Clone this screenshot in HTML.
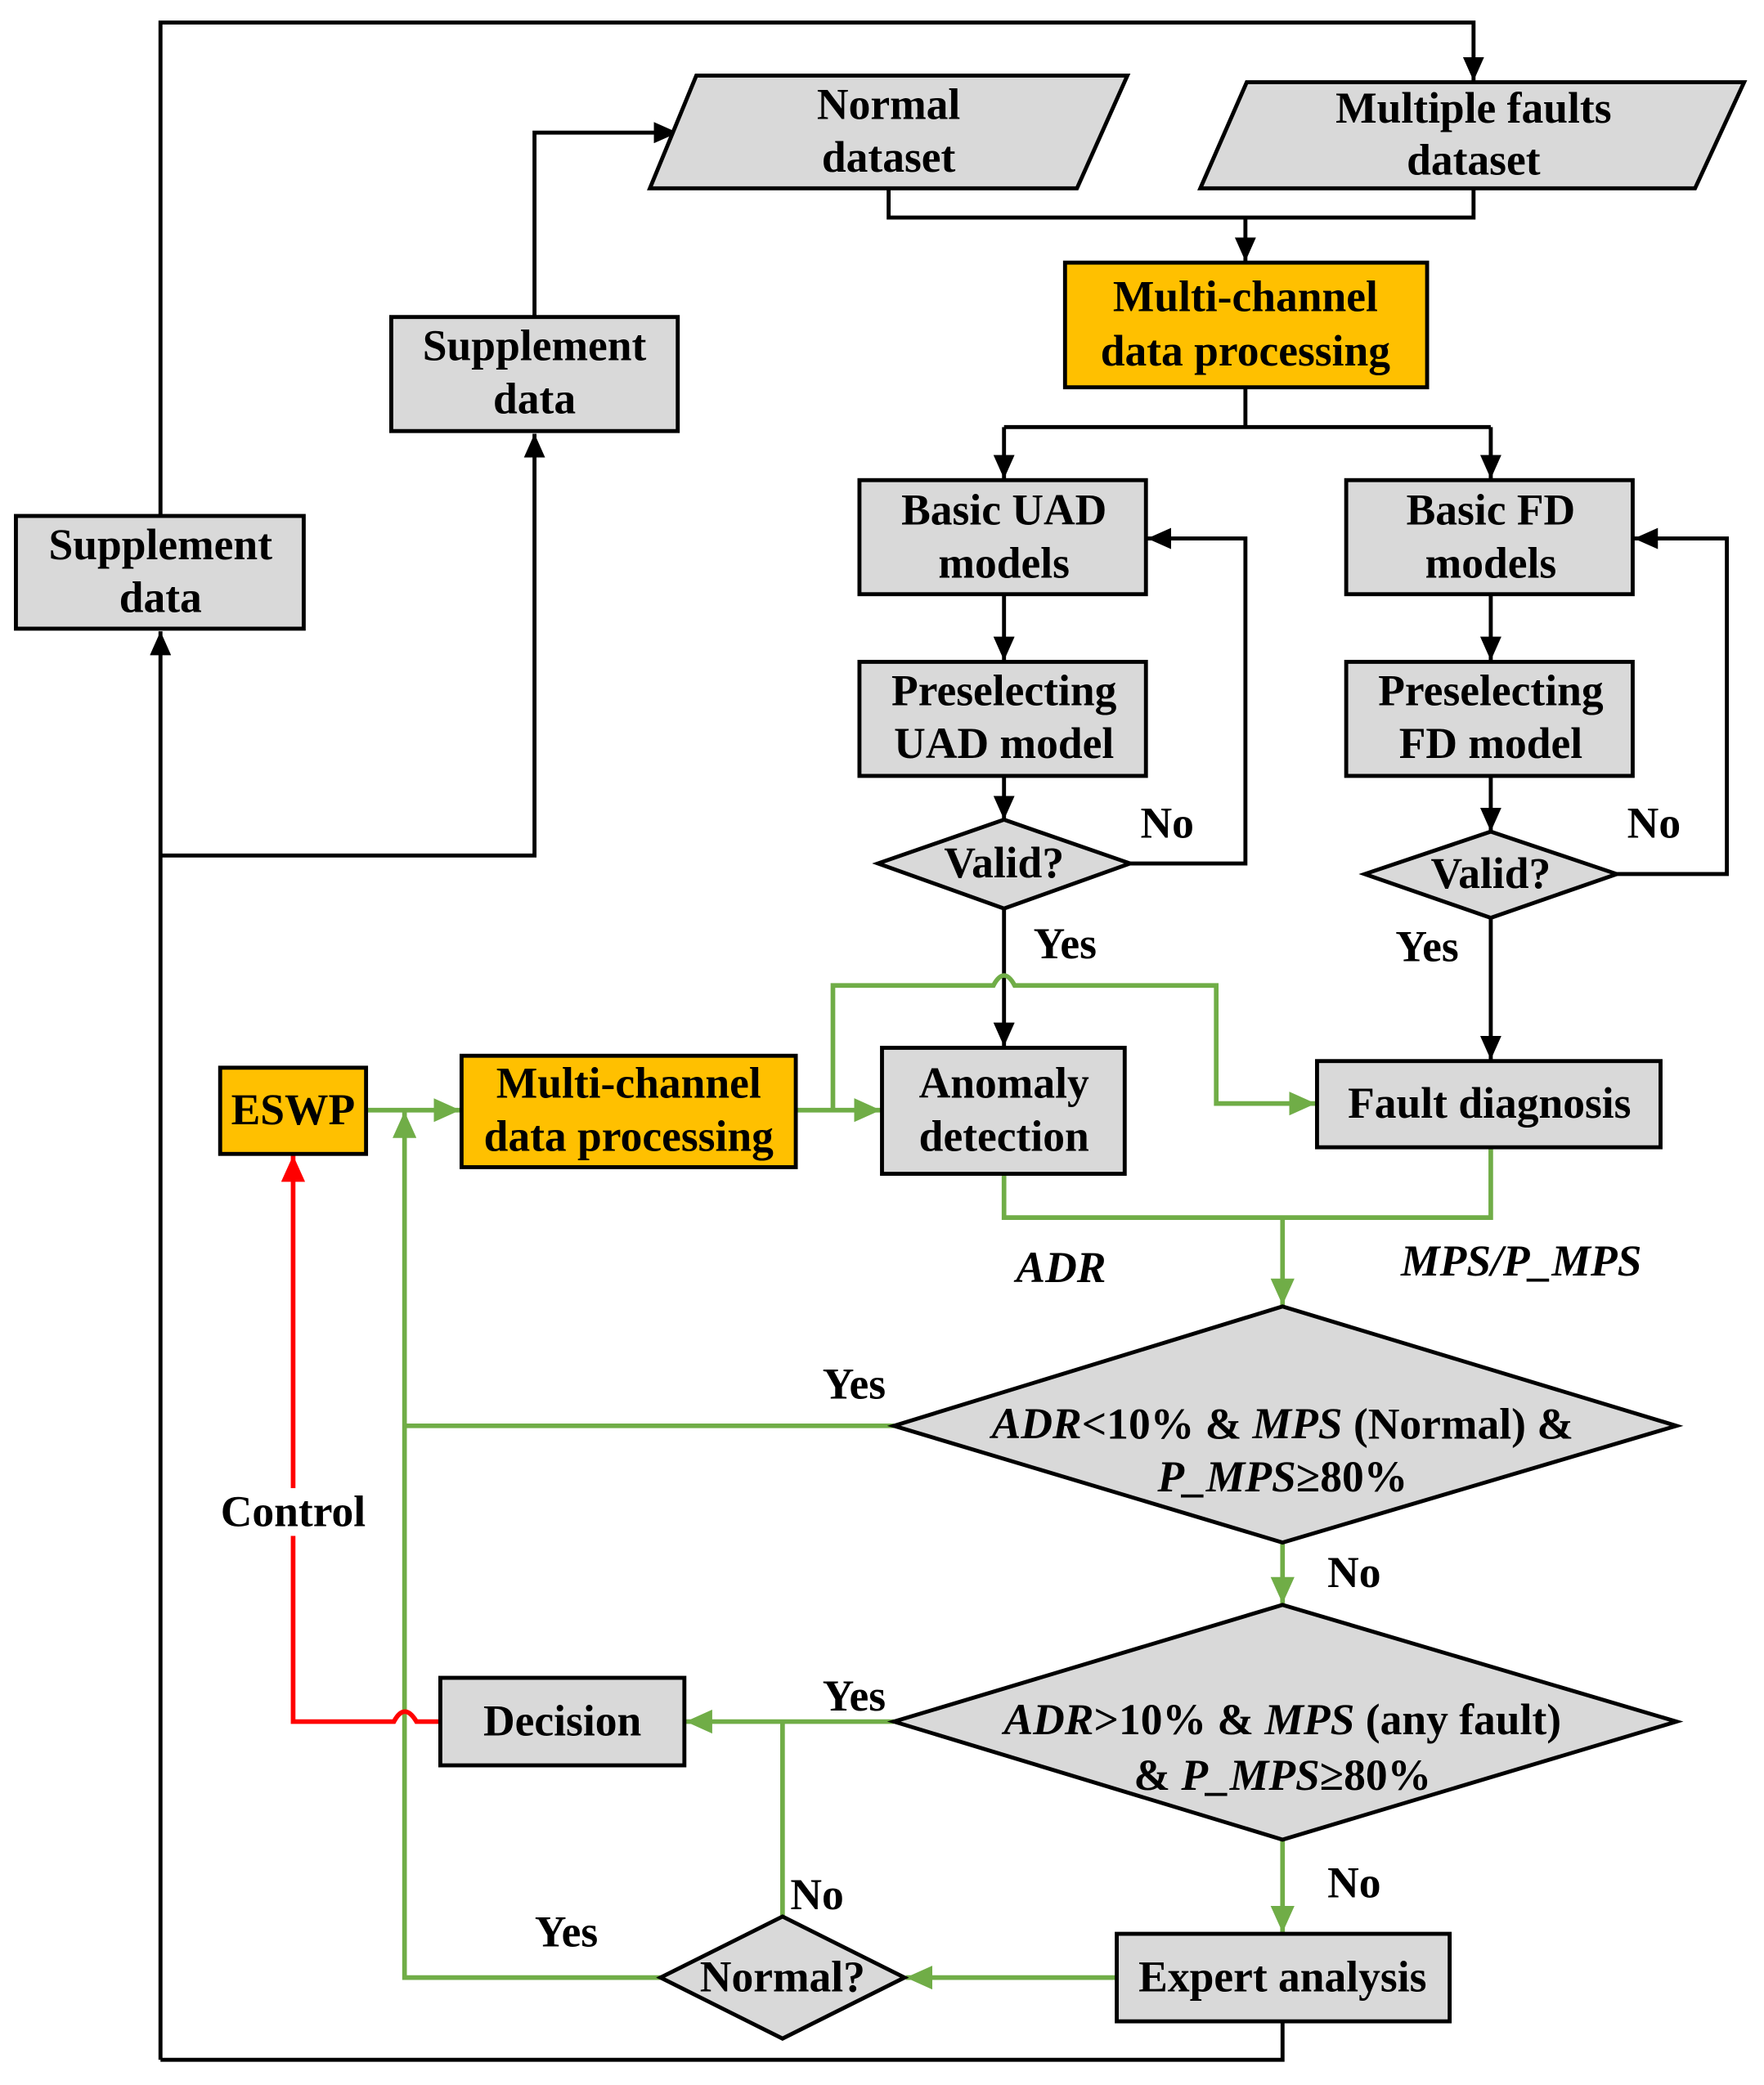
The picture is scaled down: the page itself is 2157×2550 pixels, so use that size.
<!DOCTYPE html>
<html><head><meta charset="utf-8"><style>html,body{margin:0;padding:0;background:#fff}svg{display:block}</style></head>
<body>
<svg width="2157" height="2550" viewBox="0 0 1330 1572" preserveAspectRatio="none" xmlns="http://www.w3.org/2000/svg" font-family="Liberation Serif, serif" font-size="33" font-weight="bold">
<defs>
<marker id="ab" markerWidth="18" markerHeight="16" refX="18" refY="8" orient="auto" markerUnits="userSpaceOnUse" viewBox="0 0 18 16"><path d="M0,0 L18,8 L0,16z" fill="#000"/></marker>
<marker id="ag" markerWidth="20" markerHeight="18" refX="20" refY="9" orient="auto" markerUnits="userSpaceOnUse" viewBox="0 0 20 18"><path d="M0,0 L20,9 L0,18z" fill="#70AD47"/></marker>
<marker id="ar" markerWidth="20" markerHeight="18" refX="20" refY="9" orient="auto" markerUnits="userSpaceOnUse" viewBox="0 0 20 18"><path d="M0,0 L20,9 L0,18z" fill="#FF0000"/></marker>
</defs>
<style>
.b{stroke:#000;stroke-width:3;fill:none}
.g{stroke:#70AD47;stroke-width:3.5;fill:none}
.r{stroke:#FF0000;stroke-width:3.5;fill:none}
.n{fill:#D9D9D9;stroke:#000;stroke-width:3}
.o{fill:#FFC000;stroke:#000;stroke-width:3}
text{text-anchor:middle;dominant-baseline:middle}
.i{font-style:italic}
</style>
<!-- black connectors -->
<path class="b" d="M121,1553 V476" marker-end="url(#ab)"/>
<path class="b" d="M121,389 V17 H1111 V61" marker-end="url(#ab)"/>
<path class="b" d="M121,645 H403 V327" marker-end="url(#ab)"/>
<path class="b" d="M403,239 V100 H511" marker-end="url(#ab)"/>
<path class="b" d="M670,142 V164 H1111 V142"/>
<path class="b" d="M939,164 V197" marker-end="url(#ab)"/>
<path class="b" d="M939,292 V322"/>
<path class="b" d="M757,322 H1124"/>
<path class="b" d="M757,322 V361" marker-end="url(#ab)"/>
<path class="b" d="M1124,322 V361" marker-end="url(#ab)"/>
<path class="b" d="M757,448 V498" marker-end="url(#ab)"/>
<path class="b" d="M1124,448 V498" marker-end="url(#ab)"/>
<path class="b" d="M757,585 V618" marker-end="url(#ab)"/>
<path class="b" d="M1124,585 V627" marker-end="url(#ab)"/>
<path class="b" d="M852,651 H939 V406 H865" marker-end="url(#ab)"/>
<path class="b" d="M1219,659 H1302 V406 H1232" marker-end="url(#ab)"/>
<path class="b" d="M757,685 V789" marker-end="url(#ab)"/>
<path class="b" d="M1124,692 V799" marker-end="url(#ab)"/>
<path class="b" d="M967,1524 V1553 H121"/>
<!-- green -->
<path class="g" d="M276,837 H347" marker-end="url(#ag)"/>
<path class="g" d="M600,837 H664" marker-end="url(#ag)"/>
<path class="g" d="M628,837 V743 H749 Q757,728 765,743 H917 V832 H992" marker-end="url(#ag)"/>
<path class="g" d="M757,885 V918 H1124 V865"/>
<path class="g" d="M967,918 V984" marker-end="url(#ag)"/>
<path class="g" d="M674,1075 H305"/>
<path class="g" d="M498,1491 H305 V838" marker-end="url(#ag)"/>
<path class="g" d="M967,1163 V1209" marker-end="url(#ag)"/>
<path class="g" d="M674,1298 H517" marker-end="url(#ag)"/>
<path class="g" d="M590,1445 V1298"/>
<path class="g" d="M967,1387 V1457" marker-end="url(#ag)"/>
<path class="g" d="M842,1491 H683" marker-end="url(#ag)"/>
<!-- red -->
<path class="r" d="M332,1298 H314 Q305,1283 297,1298 H221 V871" marker-end="url(#ar)"/>
<rect x="160" y="1122" width="122" height="36" fill="#fff"/>
<text x="221" y="1143">Control</text>
<!-- shapes -->
<rect class="n" x="12" y="389" width="217" height="85"/>
<text x="121" y="414">Supplement</text><text x="121" y="454">data</text>
<rect class="n" x="295" y="239" width="216" height="86"/>
<text x="403" y="264">Supplement</text><text x="403" y="304">data</text>
<polygon class="n" points="525,57 850,57 812,142 490,142"/>
<text x="670" y="82">Normal</text><text x="670" y="122">dataset</text>
<polygon class="n" points="940,62 1315,62 1278,142 905,142"/>
<text x="1111" y="85">Multiple faults</text><text x="1111" y="124">dataset</text>
<rect class="o" x="803" y="198" width="273" height="94"/>
<text x="939" y="227">Multi-channel</text><text x="939" y="268">data processing</text>
<rect class="n" x="648" y="362" width="216" height="86"/>
<text x="757" y="388">Basic UAD</text><text x="757" y="428">models</text>
<rect class="n" x="1015" y="362" width="216" height="86"/>
<text x="1124" y="388">Basic FD</text><text x="1124" y="428">models</text>
<rect class="n" x="648" y="499" width="216" height="86"/>
<text x="757" y="524">Preselecting</text><text x="757" y="564">UAD model</text>
<rect class="n" x="1015" y="499" width="216" height="86"/>
<text x="1124" y="524">Preselecting</text><text x="1124" y="564">FD model</text>
<polygon class="n" points="757,618 852,651 757,685 662,651"/>
<text x="757" y="654">Valid?</text>
<polygon class="n" points="1124,627 1219,659 1124,692 1029,659"/>
<text x="1124" y="662">Valid?</text>
<text x="880" y="624">No</text><text x="1247" y="624">No</text>
<text x="803" y="715">Yes</text><text x="1076" y="717">Yes</text>
<rect class="o" x="166" y="805" width="110" height="65"/>
<text x="221" y="840">ESWP</text>
<rect class="o" x="348" y="796" width="252" height="84"/>
<text x="474" y="820">Multi-channel</text><text x="474" y="860">data processing</text>
<rect class="n" x="665" y="790" width="183" height="95"/>
<text x="757" y="820">Anomaly</text><text x="757" y="860">detection</text>
<rect class="n" x="993" y="800" width="259" height="65"/>
<text x="1123" y="835">Fault diagnosis</text>
<text x="800" y="959" class="i">ADR</text>
<text x="1147" y="954" class="i">MPS/P_MPS</text>
<polygon class="n" points="967,985 1264,1075 967,1163 674,1075"/>
<text x="967" y="1077"><tspan class="i">ADR</tspan>&lt;10% &amp; <tspan class="i">MPS</tspan> (Normal) &amp;</text>
<text x="967" y="1117"><tspan class="i">P_MPS</tspan>≥80%</text>
<text x="644" y="1047">Yes</text>
<text x="1021" y="1189">No</text>
<polygon class="n" points="967,1210 1264,1298 967,1387 674,1298"/>
<text x="967" y="1300"><tspan class="i">ADR</tspan>&gt;10% &amp; <tspan class="i">MPS</tspan> (any fault)</text>
<text x="967" y="1342">&amp; <tspan class="i">P_MPS</tspan>≥80%</text>
<text x="644" y="1282">Yes</text>
<text x="1021" y="1423">No</text>
<rect class="n" x="332" y="1265" width="184" height="66"/>
<text x="424" y="1301">Decision</text>
<rect class="n" x="842" y="1458" width="251" height="66"/>
<text x="967" y="1494">Expert analysis</text>
<polygon class="n" points="590,1445 682,1491 590,1537 498,1491"/>
<text x="590" y="1494">Normal?</text>
<text x="616" y="1432">No</text>
<text x="427" y="1460">Yes</text>
</svg>
</body></html>
